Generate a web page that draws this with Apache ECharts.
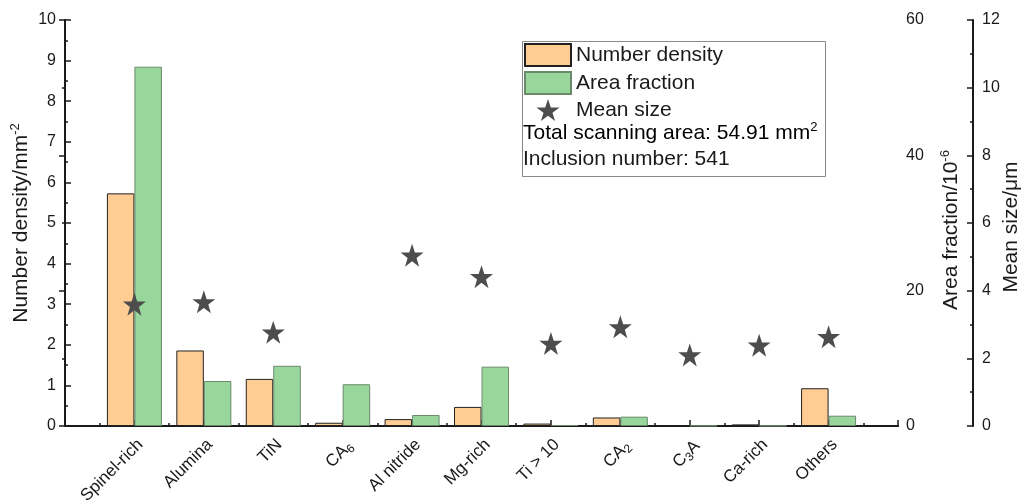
<!DOCTYPE html>
<html>
<head>
<meta charset="utf-8">
<script src="https://cdn.jsdelivr.net/npm/echarts@6/dist/echarts.min.js"></script>
<style>
html,body{margin:0;padding:0;background:#fff;}
#c{width:1026px;height:504px;}
</style>
</head>
<body>
<div id="c"></div>
<script>
// Categories (rich markup for subscripts)
const categories = ['Spinel-rich', 'Alumina', 'TiN', 'CA{s|6}', 'Al nitride', 'Mg-rich', 'Ti > 10', 'CA{s|2}', 'C{s|3}A', 'Ca-rich', 'Others'];
// Number density (mm^-2), left axis
const numberDensity = [5.73, 1.86, 1.16, 0.08, 0.17, 0.47, 0.06, 0.21, 0.02, 0.04, 0.93];
// Area fraction (10^-6), right axis
const areaFraction = [53.1, 6.65, 8.9, 6.17, 1.62, 8.77, 0.15, 1.38, 0.05, 0.05, 1.52];
// Mean size (um), far right axis
const meanSize = [3.6, 3.67, 2.77, null, 5.05, 4.41, 2.44, 2.93, 2.1, 2.39, 2.64];
// Tick settings
const leftTicks = {min: 0, max: 10, interval: 1};
const areaTicks = {min: 0, max: 60, interval: 20};
const sizeTicks = {min: 0, max: 12, interval: 2};

const FONT = "'Liberation Sans', Arial, sans-serif";
const TXT = '#1a1a1a';
const STAR = 'path://M50,0 L61.8,35.1 L98.1,35.1 L68.7,56.8 L79.4,91.6 L50,70 L20.6,91.6 L31.3,56.8 L1.9,35.1 L38.2,35.1 Z';

const pos = categories.map((c, i) => i + 1);
const ndData = numberDensity.map((v, i) => [pos[i], v]);
const afData = areaFraction.map((v, i) => [pos[i], v]);
const msData = meanSize.map((v, i) => [pos[i], v]).filter(d => d[1] !== null);

const axisLine = {show: true, lineStyle: {color: '#1a1a1a', width: 2}};
const tick = {show: true, inside: true, length: 6, lineStyle: {color: '#1a1a1a', width: 1.5}};
const minor = {show: true, splitNumber: 2, length: 3, lineStyle: {color: '#1a1a1a', width: 1.5}};
const supRich = {
  a: {fontSize: 21, fontFamily: FONT, color: TXT},
  sup: {fontSize: 13, fontFamily: FONT, color: TXT, padding: [0, 0, 12, 0]}
};

const chart = echarts.init(document.getElementById('c'), null, {renderer: 'canvas'});
chart.setOption({
  animation: false,
  backgroundColor: '#fff',
  grid: {left: 65, right: 128, top: 20, bottom: 78, containLabel: false, outerBoundsMode: 'none'},
  xAxis: [{
    type: 'value', min: 0, max: categories.length + 1, interval: 1,
    axisLine: axisLine, axisTick: tick, minorTick: minor,
    splitLine: {show: false},
    axisLabel: {
      rotate: 45, margin: 10, fontSize: 17, fontFamily: FONT, color: TXT,
      verticalAlign: 'top',
      formatter: v => (v >= 1 && v <= categories.length) ? categories[v - 1] : '',
      rich: {s: {fontSize: 12, fontFamily: FONT, color: TXT, padding: [9, 0, 0, 0]}}
    }
  }, {
    type: 'value', position: 'top', min: 0, max: categories.length + 1,
    axisLine: axisLine, axisTick: {show: false}, axisLabel: {show: false}, splitLine: {show: false}
  }],
  yAxis: [{
    type: 'value', position: 'left', ...leftTicks,
    axisLine: axisLine, axisTick: tick, minorTick: minor,
    splitLine: {show: false},
    axisLabel: {fontSize: 16, fontFamily: FONT, color: TXT, margin: 9},
    name: '{a|Number density/mm}{sup|-2}', nameLocation: 'middle', nameRotate: 90, nameGap: 31,
    nameMoveOverlap: false,
    nameTextStyle: {rich: supRich}
  }, {
    type: 'value', position: 'right', ...areaTicks,
    axisLine: axisLine, axisTick: tick, minorTick: minor,
    splitLine: {show: false},
    axisLabel: {fontSize: 16, fontFamily: FONT, color: TXT, margin: 8},
    name: '{a|Area fraction/10}{sup|-6}', nameLocation: 'middle', nameRotate: 90, nameGap: 41,
    nameMoveOverlap: false,
    nameTextStyle: {rich: supRich, padding: [0, 14, 0, 0]}
  }, {
    type: 'value', position: 'right', offset: 75, ...sizeTicks,
    axisLine: axisLine, axisTick: tick, minorTick: minor,
    splitLine: {show: false},
    axisLabel: {fontSize: 16, fontFamily: FONT, color: TXT, margin: 9},
    name: 'Mean size/μm', nameLocation: 'middle', nameRotate: 90, nameGap: 28,
    nameMoveOverlap: false,
    nameTextStyle: {fontSize: 21, fontFamily: FONT, color: TXT, padding: [0, 8, 0, 0]}
  }],
  legend: {
    left: 524, top: 43, orient: 'vertical', padding: 0,
    itemWidth: 46, itemHeight: 22, itemGap: 4,
    textStyle: {fontSize: 21, fontFamily: FONT, color: TXT},
    data: [
      {name: 'Number density', icon: 'rect'},
      {name: 'Area fraction', icon: 'rect'},
      {name: 'Mean size'}
    ]
  },
  graphic: [{
    type: 'rect', left: 522, top: 41, z: 0,
    shape: {width: 303, height: 135},
    style: {fill: '#fff', stroke: '#888', lineWidth: 1}
  }, {
    type: 'text', left: 523, top: 121, z: 10,
    style: {
      text: '{a|Total scanning area: 54.91 mm}{sup|2}',
      rich: supRich
    }
  }, {
    type: 'text', left: 523, top: 149, z: 10,
    style: {text: 'Inclusion number: 541', fontSize: 21, fontFamily: FONT, fill: TXT}
  }],
  series: [{
    name: 'Number density', type: 'bar', xAxisIndex: 0, yAxisIndex: 0,
    data: ndData, barWidth: 27.5, barGap: '0%',
    itemStyle: {color: '#FFCC94', borderColor: '#222', borderWidth: 1}
  }, {
    name: 'Area fraction', type: 'bar', xAxisIndex: 0, yAxisIndex: 1,
    data: afData, barWidth: 27.5, barGap: '0%',
    itemStyle: {color: '#98D69B', borderColor: '#6a8a6c', borderWidth: 1}
  }, {
    name: 'Mean size', type: 'scatter', xAxisIndex: 0, yAxisIndex: 2,
    data: msData, symbol: STAR, symbolSize: 23, z: 5,
    itemStyle: {color: '#4d4d4d', opacity: 1}
  }]
});
</script>
</body>
</html>
